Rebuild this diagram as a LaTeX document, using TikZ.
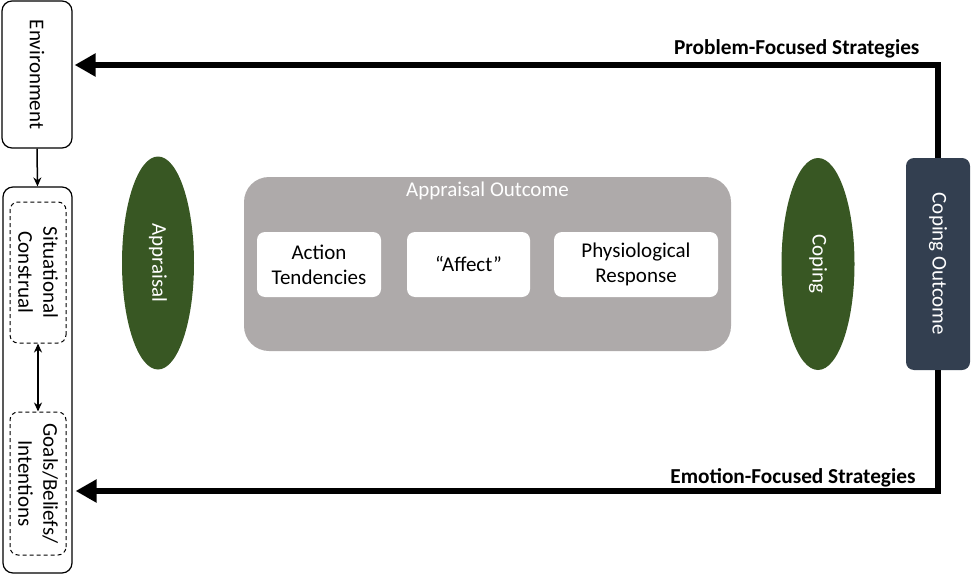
\documentclass[tikz,border=0pt]{standalone}
\usepackage{fontspec}
\setmainfont{Carlito}
\usetikzlibrary{arrows.meta}
\usetikzlibrary{shapes.geometric}
\definecolor{custom-green}{HTML}{385723}
\definecolor{custom-grey}{HTML}{AEAAAA}
\definecolor{custom-slate}{HTML}{333F50}

\begin{document}
\begin{tikzpicture}[x=1pt, y=-1pt,
  font=\fontsize{21}{25}\selectfont,
  sidebox/.style={draw=black, line width=1.2pt, rounded corners=10pt, rotate=-90, inner sep=0pt, align=center},
  dashbox/.style={draw=black, line width=1pt, dash pattern=on 4pt off 3pt, rounded corners=8pt, rotate=-90, inner sep=0pt, align=center},
  blob/.style={ellipse, fill=custom-green, text=white, rotate=-90, inner sep=0pt},
  whitebox/.style={fill=white, rounded corners=8pt, inner sep=0pt, align=center, minimum height=65pt},
  thinarrow/.style={line width=1.5pt, -{Stealth[length=9pt,width=8pt]}},
  twoway/.style={line width=1.5pt, {Stealth[length=9pt,width=8pt]}-{Stealth[length=9pt,width=8pt]}},
  strat/.style={line width=6pt, -{Triangle[length=21pt,width=22pt]}},
  stratlabel/.style={font=\fontsize{21.3}{25}\selectfont\bfseries, anchor=base east}]
\useasboundingbox (0,0) rectangle (971,575);
% left column
\node[sidebox, minimum width=147pt, minimum height=70pt] (env) at (37,74.5) {Environment};
\node[sidebox, minimum width=386pt, minimum height=69pt] (person) at (37.5,380) {};
\node[dashbox, minimum width=141pt, minimum height=56pt] (situation) at (38,272.5) {Situational\\Construal};
\node[dashbox, minimum width=143pt, minimum height=56pt] (goals) at (38,483.5) {Goals/Beliefs/\\Intentions};
\draw[thinarrow] (env.east) -- (person.west);
\draw[twoway] (situation.east) -- (goals.west);
% middle
\node[blob, minimum width=213pt, minimum height=72pt] (appraisal) at (158,263) {Appraisal};
\node[fill=custom-grey, rounded corners=25pt, minimum width=487pt, minimum height=174pt] (outcome) at (487.5,264) {};
\node[text=white, anchor=base] (outcometitle) at (487.5,196) {Appraisal Outcome};
\node[whitebox, minimum width=124pt] (action) at (319,264.5) {Action\\Tendencies};
\node[whitebox, minimum width=123pt] (affect) at (468.5,264.5) {``Affect''};
\node[whitebox, minimum width=164pt] (physio) at (636,264.5) {Physiological\\Response};
\node[blob, minimum width=212pt, minimum height=73pt] (coping) at (818,264) {Coping};
% right
\node[fill=custom-slate, text=white, rounded corners=8pt, rotate=-90, inner sep=0pt, minimum width=212pt, minimum height=64pt] (copingout) at (938,264) {Coping Outcome};
\draw[strat] (copingout.west) |- ([xshift=2pt, yshift=9.5pt]env.north);
\draw[strat] (copingout.east) |- ([xshift=3pt, yshift=-111pt]person.north);
\node[stratlabel] (problem) at (923,55) {Problem-Focused Strategies};
\node[stratlabel] (emotion) at (919,483) {Emotion-Focused Strategies};
\end{tikzpicture}
\end{document}
